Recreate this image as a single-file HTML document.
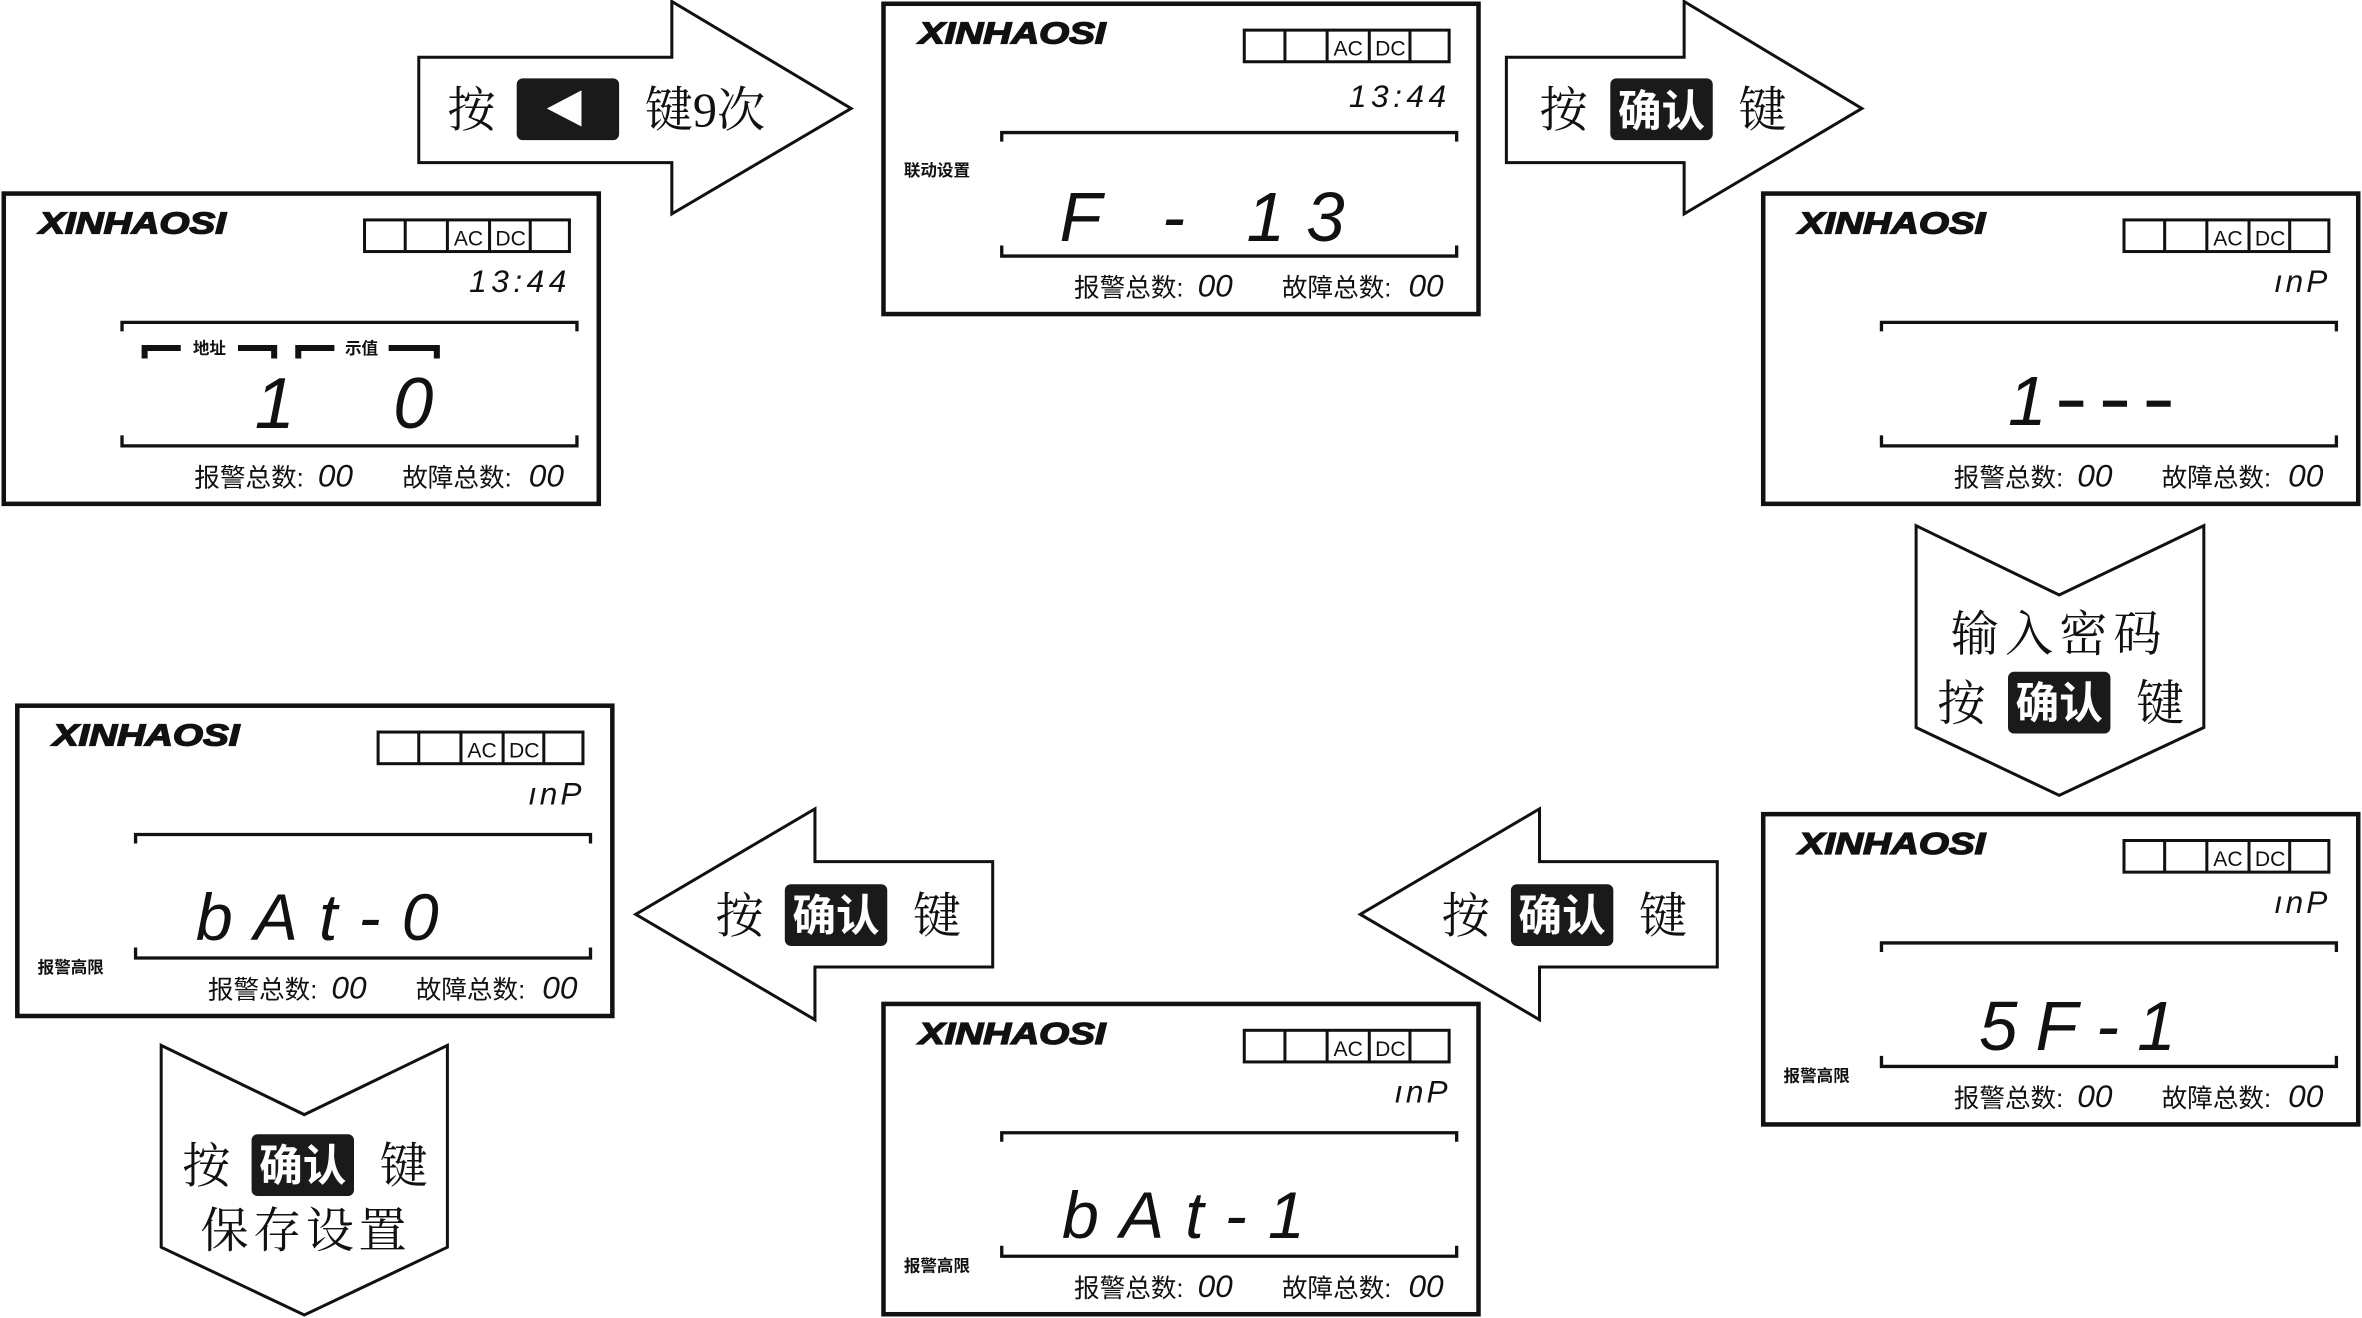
<!DOCTYPE html>
<html><head><meta charset="utf-8"><style>
html,body{margin:0;padding:0;background:#fff;overflow:hidden}
svg{display:block}
.lg{font-family:"Liberation Sans",sans-serif;font-weight:bold;font-style:italic;font-size:20px;stroke:#111;stroke-width:0.9}
.ac{font-family:"Liberation Sans",sans-serif;font-size:14px}
.seg{font-family:"Liberation Sans",sans-serif;font-style:italic}
.cn{font-family:"Liberation Sans","Noto Sans CJK SC",sans-serif}
.cs{font-family:"Liberation Serif","Noto Serif CJK SC",serif}
</style></head><body>
<svg width="2362" height="1318" viewBox="0 0 1568 875" preserveAspectRatio="none" xmlns="http://www.w3.org/2000/svg">
<defs>
<g id="frame" fill="none" stroke="#111">
<rect x="1.5" y="1.5" width="395" height="206" stroke-width="3"/>
<rect x="241" y="19" width="136" height="21" stroke-width="2"/>
<path d="M268 19V40M296 19V40M324 19V40M351 19V40" stroke-width="2"/>
<path d="M80 93V87H382V93M80 162V169H382V162" stroke-width="2.2"/>
</g>
</defs>

<g fill="#fff" stroke="#111" stroke-width="2">
<path d="M278 38H446V1L565 72L446 142V108H278Z"/>
<path d="M1000 38H1118V1L1236 72L1118 142V108H1000Z"/>
<path d="M1272 349L1367 395L1463 349V483L1367 528L1272 483Z"/>
<path d="M1140 572H1022V537L903 607L1022 677V642H1140Z"/>
<path d="M659 572H541V537L422 607L541 677V642H659Z"/>
<path d="M107 694L202 740L297 694V828L202 873L107 828Z"/>
</g>
<g class="cs" font-size="32" fill="#111">
<text x="297" y="84">按</text>
<rect x="343" y="52" width="68" height="41" rx="4" fill="#1a1a1a"/>
<path d="M363 72L386 60V84Z" fill="#fff"/>
<text x="428" y="84">键9次</text>

<text x="1022" y="84">按</text>
<rect x="1069" y="52" width="68" height="41" rx="4" fill="#1a1a1a"/>
<text x="1103" y="84" fill="#fff" text-anchor="middle" class="cn" font-weight="bold" font-size="29">确认</text>
<text x="1154" y="84">键</text>

<text x="1367" y="432" text-anchor="middle" letter-spacing="4">输入密码</text>
<text x="1286" y="478">按</text>
<rect x="1333" y="446" width="68" height="41" rx="4" fill="#1a1a1a"/>
<text x="1367" y="477" fill="#fff" text-anchor="middle" class="cn" font-weight="bold" font-size="29">确认</text>
<text x="1418" y="478">键</text>

<text x="957" y="619">按</text>
<rect x="1003" y="587" width="68" height="41" rx="4" fill="#1a1a1a"/>
<text x="1037" y="618" fill="#fff" text-anchor="middle" class="cn" font-weight="bold" font-size="29">确认</text>
<text x="1088" y="619">键</text>

<text x="475" y="619">按</text>
<rect x="521" y="587" width="68" height="41" rx="4" fill="#1a1a1a"/>
<text x="555" y="618" fill="#fff" text-anchor="middle" class="cn" font-weight="bold" font-size="29">确认</text>
<text x="606" y="619">键</text>

<text x="121" y="785">按</text>
<rect x="167" y="753" width="68" height="41" rx="4" fill="#1a1a1a"/>
<text x="201" y="784" fill="#fff" text-anchor="middle" class="cn" font-weight="bold" font-size="29">确认</text>
<text x="252" y="785">键</text>
<text x="203" y="828" text-anchor="middle" letter-spacing="3">保存设置</text>
</g>

<g transform="translate(1,127)" fill="#111">
<use href="#frame"/>
<text class="lg" x="25" y="28" textLength="124" lengthAdjust="spacingAndGlyphs">XINHAOSI</text>
<text class="ac" x="310" y="36" text-anchor="middle">AC</text><text class="ac" x="338" y="36" text-anchor="middle">DC</text>
<text class="seg" x="378" y="67" font-size="21" text-anchor="end" letter-spacing="3">13:44</text>
<path d="M95 111V104H119M157 104H181V111M197 111V104H221M257 104H289V111" fill="none" stroke="#111" stroke-width="4"/>
<text class="cn" x="138" y="108" font-size="11" font-weight="bold" text-anchor="middle">地址</text>
<text class="cn" x="239" y="108" font-size="11" font-weight="bold" text-anchor="middle">示值</text>
<text class="seg" x="168" y="157" font-size="48">1</text>
<text class="seg" x="260" y="157" font-size="48">0</text>
<text class="cn" x="128" y="196" font-size="17">报警总数:</text><text class="seg" x="210" y="196" font-size="21">00</text>
<text class="cn" x="266" y="196" font-size="17">故障总数:</text><text class="seg" x="350" y="196" font-size="21">00</text>
</g>
<g transform="translate(585,1)" fill="#111">
<use href="#frame"/>
<text class="lg" x="25" y="28" textLength="124" lengthAdjust="spacingAndGlyphs">XINHAOSI</text>
<text class="ac" x="310" y="36" text-anchor="middle">AC</text><text class="ac" x="338" y="36" text-anchor="middle">DC</text>
<text class="seg" x="378" y="70" font-size="21" text-anchor="end" letter-spacing="3">13:44</text>
<text class="cn" x="15" y="116" font-size="11" font-weight="bold">联动设置</text>
<text class="seg" x="220" y="159" font-size="46" text-anchor="middle" letter-spacing="14">F - 13</text>
<text class="cn" x="128" y="196" font-size="17">报警总数:</text><text class="seg" x="210" y="196" font-size="21">00</text>
<text class="cn" x="266" y="196" font-size="17">故障总数:</text><text class="seg" x="350" y="196" font-size="21">00</text>
</g>
<g transform="translate(1169,127)" fill="#111">
<use href="#frame"/>
<text class="lg" x="25" y="28" textLength="124" lengthAdjust="spacingAndGlyphs">XINHAOSI</text>
<text class="ac" x="310" y="36" text-anchor="middle">AC</text><text class="ac" x="338" y="36" text-anchor="middle">DC</text>
<text class="seg" x="378" y="67" font-size="21" text-anchor="end" letter-spacing="2">ınP</text>
<text class="seg" x="164" y="155" font-size="46">1</text>
<path d="M198 141H214M227 141H243M256 141H272" stroke="#111" stroke-width="4"/>
<text class="cn" x="128" y="196" font-size="17">报警总数:</text><text class="seg" x="210" y="196" font-size="21">00</text>
<text class="cn" x="266" y="196" font-size="17">故障总数:</text><text class="seg" x="350" y="196" font-size="21">00</text>
</g>
<g transform="translate(1169,539)" fill="#111">
<use href="#frame"/>
<text class="lg" x="25" y="28" textLength="124" lengthAdjust="spacingAndGlyphs">XINHAOSI</text>
<text class="ac" x="310" y="36" text-anchor="middle">AC</text><text class="ac" x="338" y="36" text-anchor="middle">DC</text>
<text class="seg" x="378" y="67" font-size="21" text-anchor="end" letter-spacing="2">ınP</text>
<text class="cn" x="15" y="179" font-size="11" font-weight="bold">报警高限</text>
<text class="seg" x="216" y="158" font-size="46" text-anchor="middle" letter-spacing="12">5F-1</text>
<text class="cn" x="128" y="196" font-size="17">报警总数:</text><text class="seg" x="210" y="196" font-size="21">00</text>
<text class="cn" x="266" y="196" font-size="17">故障总数:</text><text class="seg" x="350" y="196" font-size="21">00</text>
</g>
<g transform="translate(585,665)" fill="#111">
<use href="#frame"/>
<text class="lg" x="25" y="28" textLength="124" lengthAdjust="spacingAndGlyphs">XINHAOSI</text>
<text class="ac" x="310" y="36" text-anchor="middle">AC</text><text class="ac" x="338" y="36" text-anchor="middle">DC</text>
<text class="seg" x="378" y="67" font-size="21" text-anchor="end" letter-spacing="2">ınP</text>
<text class="cn" x="15" y="179" font-size="11" font-weight="bold">报警高限</text>
<text class="seg" x="120" y="157" font-size="44" letter-spacing="14">bAt-1</text>
<text class="cn" x="128" y="196" font-size="17">报警总数:</text><text class="seg" x="210" y="196" font-size="21">00</text>
<text class="cn" x="266" y="196" font-size="17">故障总数:</text><text class="seg" x="350" y="196" font-size="21">00</text>
</g>
<g transform="translate(10,467)" fill="#111">
<use href="#frame"/>
<text class="lg" x="25" y="28" textLength="124" lengthAdjust="spacingAndGlyphs">XINHAOSI</text>
<text class="ac" x="310" y="36" text-anchor="middle">AC</text><text class="ac" x="338" y="36" text-anchor="middle">DC</text>
<text class="seg" x="378" y="67" font-size="21" text-anchor="end" letter-spacing="2">ınP</text>
<text class="cn" x="15" y="179" font-size="11" font-weight="bold">报警高限</text>
<text class="seg" x="120" y="157" font-size="44" letter-spacing="14">bAt-0</text>
<text class="cn" x="128" y="196" font-size="17">报警总数:</text><text class="seg" x="210" y="196" font-size="21">00</text>
<text class="cn" x="266" y="196" font-size="17">故障总数:</text><text class="seg" x="350" y="196" font-size="21">00</text>
</g>
</svg>
</body></html>
